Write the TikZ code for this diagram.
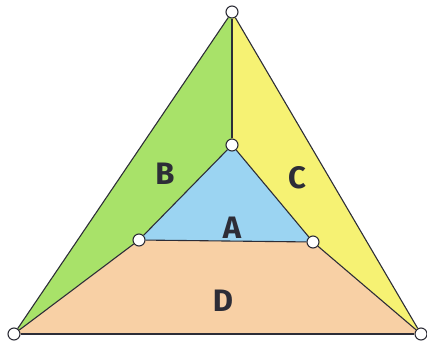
\documentclass[tikz,border=0pt]{standalone}
\usepackage{fontspec}
\setsansfont{Fira Sans}
\definecolor{ink}{RGB}{45,45,55}
\definecolor{fillA}{RGB}{155,212,242}
\definecolor{fillB}{RGB}{168,226,105}
\definecolor{fillC}{RGB}{246,242,115}
\definecolor{fillD}{RGB}{248,208,165}
\begin{document}
\begin{tikzpicture}[x=1pt,y=-1pt,
  vtx/.style={circle,draw=ink,fill=white,line width=1.1pt,minimum size=12pt,inner sep=0pt},
  edge/.style={draw=ink,line width=1.1pt},
  lbl/.style={text=ink,font=\sffamily\bfseries\fontsize{31}{31}\selectfont}]
\useasboundingbox (0,0) rectangle (427,347);
\coordinate (T) at (232,12);
\coordinate (IT) at (232,145);
\coordinate (IL) at (139,240);
\coordinate (IR) at (313,242);
\coordinate (BL) at (14,334);
\coordinate (BR) at (421,334);
% regions
\fill[fillB] (T) -- (IT) -- (IL) -- (BL) -- cycle;
\fill[fillC] (T) -- (BR) -- (IR) -- (IT) -- cycle;
\fill[fillD] (BL) -- (IL) -- (IR) -- (BR) -- cycle;
\fill[fillA] (IT) -- (IL) -- (IR) -- cycle;
% vertices
\node[vtx] (vT) at (T) {};
\node[vtx] (vIT) at (IT) {};
\node[vtx] (vIL) at (IL) {};
\node[vtx] (vIR) at (IR) {};
\node[vtx] (vBL) at (BL) {};
\node[vtx] (vBR) at (BR) {};
% edges
\path[edge] (vT) -- (vBL);
\path[edge] (vT) -- (vBR);
\path[edge] (vBL) -- (vBR);
\path[edge] (vT) -- (vIT);
\path[edge] (vIT) -- (vIL);
\path[edge] (vIT) -- (vIR);
\path[edge] (vIL) -- (vIR);
\path[edge] (vIL) -- (vBL);
\path[edge] (vIR) -- (vBR);
% labels
\node[lbl] (lA) at (232,228) {A};
\node[lbl] (lB) at (165,174) {B};
\node[lbl] (lC) at (297,178) {C};
\node[lbl] (lD) at (223,301) {D};
\end{tikzpicture}
\end{document}
